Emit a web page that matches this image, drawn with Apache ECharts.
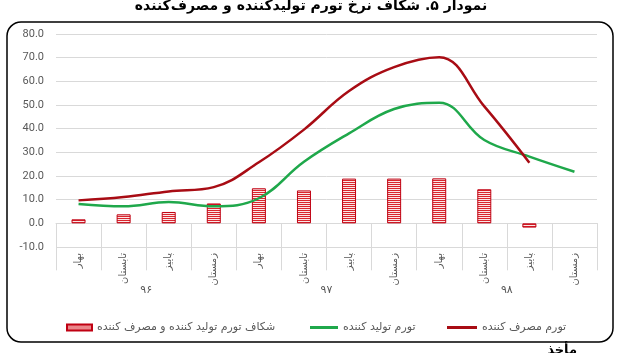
<!DOCTYPE html>
<html>
<head>
<meta charset="utf-8">
<script src="https://cdn.jsdelivr.net/npm/echarts@6/dist/echarts.min.js"></script>
<style>
	html, body { margin: 0; padding: 0; background: #fff; }
	#chart { width: 622px; height: 353px; }
</style>
</head>
<body>
<div id="chart"></div>
<script>
// seasons (category axis, level 1) and years (level 2)
var seasons = ['بهار', 'تابستان', 'پاییز', 'زمستان', 'بهار', 'تابستان', 'پاییز', 'زمستان', 'بهار', 'تابستان', 'پاییز', 'زمستان'];
var years = ['۹۶', '۹۷', '۹۸'];

// consumer inflation, producer inflation, gap between them
var consumer = [9.7, 11.1, 13.5, 15.3, 25.8, 39.6, 55.9, 66.0, 70.2, 49.4, 25.6, null];
var producer = [8.2, 7.2, 9.0, 7.2, 10.6, 26.0, 38.0, 48.3, 51.0, 35.2, 28.2, 21.8];
var gap = [1.7, 3.8, 4.8, 8.4, 14.8, 13.9, 18.9, 18.9, 19.0, 14.4, -1.8, null];

var nameConsumer = 'تورم مصرف کننده';
var nameProducer = 'تورم تولید کننده';
var nameGap = 'شکاف تورم تولید کننده و مصرف کننده';

var faFont = 'DejaVu Sans';
var grey = '#595959';
var gridColor = '#d9d9d9';

// striped fill for the gap bars
var stripe = document.createElement('canvas');
stripe.width = 2;
stripe.height = 2;
var ctx = stripe.getContext('2d');
ctx.fillStyle = '#fbe6e6';
ctx.fillRect(0, 0, 2, 2);
ctx.fillStyle = '#d9262e';
ctx.fillRect(0, 0, 2, 1);

var gridBox = { left: 56, right: 25, top: 34, bottom: 106 };

var legendText = { color: grey, fontSize: 11, fontFamily: faFont };

var option = {
	animation: false,
	backgroundColor: '#fff',
	title: {
		text: 'نمودار ۵. شکاف نرخ تورم تولیدکننده و مصرف‌کننده',
		left: 'center',
		top: -6,
		textStyle: { fontFamily: faFont, fontSize: 14, fontWeight: 'bold', color: '#000' }
	},
	graphic: [{
		type: 'rect',
		shape: { x: 7, y: 22, width: 606, height: 320, r: 14 },
		style: { fill: 'none', stroke: '#000', lineWidth: 1.5 },
		silent: true
	}, {
		type: 'text',
		right: 45,
		top: 344,
		style: { text: 'مأخذ', font: 'bold 13px "DejaVu Sans"', fill: '#000' }
	}],
	legend: [{
		data: [{ name: nameGap, icon: 'rect' }],
		left: 61, top: 317,
		itemWidth: 25, itemHeight: 6, itemGap: 0,
		selectedMode: false,
		textStyle: legendText
	}, {
		data: [{ name: nameProducer, icon: 'rect' }],
		left: 305, top: 317,
		itemWidth: 28, itemHeight: 3,
		selectedMode: false,
		textStyle: legendText
	}, {
		data: [{ name: nameConsumer, icon: 'rect' }],
		left: 442, top: 317,
		itemWidth: 30, itemHeight: 3,
		selectedMode: false,
		textStyle: legendText
	}],
	grid: [
		Object.assign({}, gridBox),
		Object.assign({}, gridBox)
	],
	xAxis: [{
		type: 'category',
		gridIndex: 0,
		data: seasons,
		axisLine: { onZero: true, lineStyle: { color: gridColor } },
		axisTick: { show: true, interval: 0, length: 47, lineStyle: { color: gridColor } },
		axisLabel: {
			interval: 0,
			rotate: 90,
			margin: 6,
			color: grey,
			fontSize: 10,
			fontFamily: faFont
		}
	}, {
		type: 'category',
		gridIndex: 1,
		position: 'bottom',
		offset: 23,
		data: years,
		axisLine: { show: false },
		axisTick: { show: true, interval: 0, length: 35, lineStyle: { color: gridColor } },
		axisLabel: { margin: 15, color: grey, fontSize: 11, fontFamily: faFont }
	}],
	yAxis: [{
		type: 'value',
		gridIndex: 0,
		min: -10,
		max: 80,
		interval: 10,
		axisLine: { show: false },
		axisTick: { show: false },
		splitLine: { lineStyle: { color: gridColor } },
		axisLabel: {
			margin: 12,
			color: grey,
			fontSize: 11,
			fontFamily: 'Roboto',
			formatter: function (v) { return v.toFixed(1); }
		}
	}, {
		type: 'value',
		gridIndex: 1,
		min: -10,
		max: 80,
		show: false
	}],
	series: [{
		name: nameGap,
		type: 'bar',
		xAxisIndex: 0,
		yAxisIndex: 0,
		barWidth: 14,
		data: gap,
		itemStyle: {
			color: { image: stripe, repeat: 'repeat' },
			borderColor: '#c00012',
			borderWidth: 1
		}
	}, {
		name: nameProducer,
		type: 'line',
		xAxisIndex: 0,
		yAxisIndex: 0,
		data: producer,
		smooth: 0.4,
		showSymbol: false,
		lineStyle: { color: '#1fa84b', width: 2.5 },
		itemStyle: { color: '#1fa84b' }
	}, {
		name: nameConsumer,
		type: 'line',
		xAxisIndex: 0,
		yAxisIndex: 0,
		data: consumer,
		smooth: 0.4,
		showSymbol: false,
		lineStyle: { color: '#a80c14', width: 2.5 },
		itemStyle: { color: '#a80c14' }
	}]
};

var myChart = echarts.init(document.getElementById('chart'));
myChart.setOption(option);
</script>
</body>
</html>
